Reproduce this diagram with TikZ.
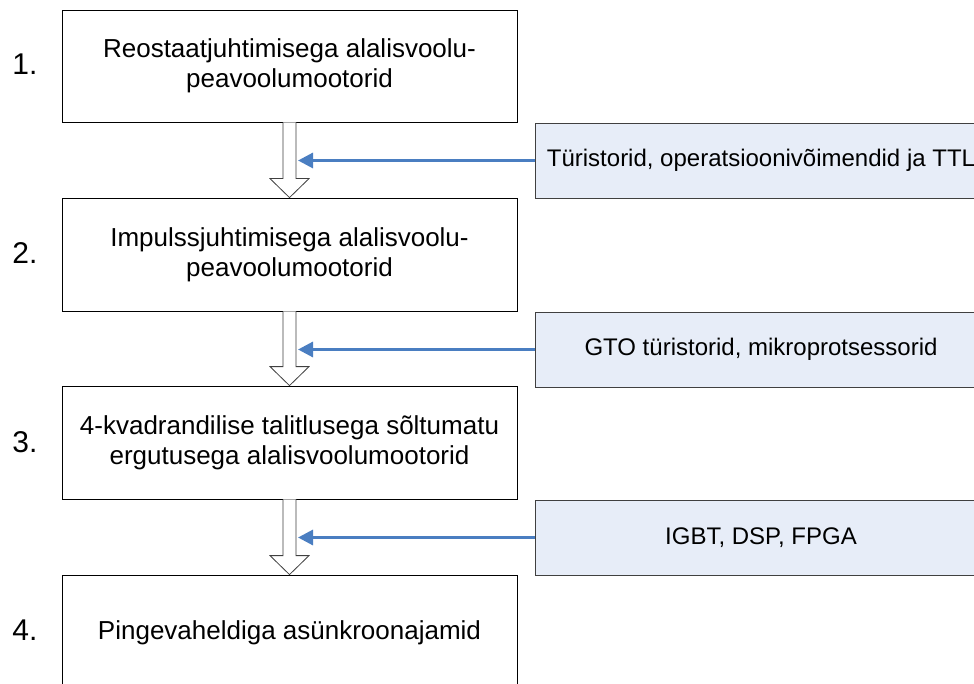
\documentclass[tikz,border=0pt]{standalone}
\usepackage{fontspec}
\setmainfont{Liberation Sans}
\usetikzlibrary{arrows.meta,calc}
\definecolor{offblue}{RGB}{74,126,193}
\definecolor{sidefill}{RGB}{231,237,248}
\definecolor{sideline}{RGB}{64,64,64}
\tikzset{
	stage/.style={draw=black, fill=white, line width=0.8pt, minimum width=455pt, align=center, font=\fontsize{26}{30}\selectfont},
	tech/.style={draw=sideline, fill=sidefill, line width=0.8pt, minimum width=452pt, minimum height=75pt, font=\fontsize{24}{28}\selectfont},
	nr/.style={font=\fontsize{30}{36}\selectfont},
	hollow/.style={draw=black!75, fill=white, line width=0.8pt},
	feed/.style={draw=offblue, line width=3pt, -{Triangle[length=15pt,width=15pt]}}
}
\begin{document}
\begin{tikzpicture}[x=1pt,y=-1pt]
	\clip (0,0) rectangle (974,684);
	\fill[white] (0,0) rectangle (974,684);
	
	\node[stage, minimum height=112pt] (b1) at (289.5,66) {Reostaatjuhtimisega alalisvoolu-\\peavoolumootorid};
	\node[stage, minimum height=113pt] (b2) at (289.5,254.5) {Impulssjuhtimisega alalisvoolu-\\peavoolumootorid};
	\node[stage, minimum height=113pt] (b3) at (289.5,442.5) {4-kvadrandilise talitlusega sõltumatu\\ergutusega alalisvoolumootorid};
	\node[stage, minimum height=116pt] (b4) at (289.5,633) {Pingevaheldiga asünkroonajamid};
	
	\node[nr] (n1) at (25,64) {1.};
	\node[nr] (n2) at (25,253) {2.};
	\node[nr] (n3) at (25,442) {3.};
	\node[nr] (n4) at (25,630) {4.};
	
	\node[tech] (s1) at (761,160.5) {Türistorid, operatsioonivõimendid ja TTL};
	\node[tech] (s2) at (761,349.5) {GTO türistorid, mikroprotsessorid};
	\node[tech] (s3) at (761,537.5) {IGBT, DSP, FPGA};
	
	% hollow arrows between the stages
	\foreach \a/\b in {b1/b2, b2/b3, b3/b4}{
		\draw[hollow] ($(\a.south)+(-6.5,0)$) -- ($(\b.north)+(-6.5,-19)$) -- ($(\b.north)+(-19.5,-19)$) -- (\b.north)
			-- ($(\b.north)+(19.5,-19)$) -- ($(\b.north)+(6.5,-19)$) -- ($(\a.south)+(6.5,0)$);
	}
	
	% technology feeds
	\foreach \s/\a in {s1/b1, s2/b2, s3/b3}{
		\draw[feed] (\s.west) -- ([xshift=8.5pt]\a.south |- \s.west);
	}
\end{tikzpicture}
\end{document}
